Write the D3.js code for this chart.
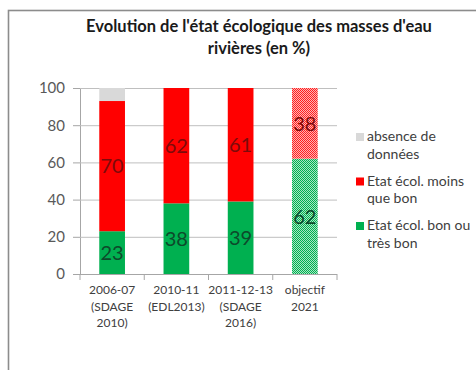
<!DOCTYPE html>
<html>
<head>
<meta charset="utf-8">
<script src="https://cdn.jsdelivr.net/npm/d3@7"></script>
<style>
  html, body { margin: 0; padding: 0; background: #fff; }
  svg { display: block; }
  text { font-family: Lato, "Open Sans", sans-serif; }
</style>
</head>
<body>
<svg id="chart" width="476" height="370"></svg>
<script>
// Periods shown on the x axis (one line per entry)
const categories = ["2006-07", "2010-11", "2011-12-13", "objectif 2021"];
const categoryLines = [
  ["2006-07", "(SDAGE", "2010)"],
  ["2010-11", "(EDL2013)"],
  ["2011-12-13", "(SDAGE", "2016)"],
  ["objectif", "2021"]
];
// Share of river water bodies per ecological state (%)
const bonOuTresBon = [23, 38, 39, 62];
const moinsQueBon = [70, 62, 61, 38];
const absenceDonnees = [7, 0, 0, 0];
// Target period is drawn with a dotted fill
const isTarget = [false, false, false, true];

const yTicks = [0, 20, 40, 60, 80, 100];
const seriesKeys = ["bon", "moins", "absence"];
const seriesLabels = {
  absence: ["absence de", "données"],
  moins: ["Etat écol. moins", "que bon"],
  bon: ["Etat écol. bon ou", "très bon"]
};
const colors = { bon: "#00b050", moins: "#ff0000", absence: "#d9d9d9" };

const svg = d3.select("#chart");

// Outer chart frame
svg.append("rect")
  .attr("x", 8.5).attr("y", 10.5)
  .attr("width", 480).attr("height", 380)
  .attr("fill", "#fff")
  .attr("stroke", "#8c8c8c").attr("stroke-width", 1.6);

// Dotted fills for the target bar
const defs = svg.append("defs");
function dotPattern(id, base, light) {
  const p = defs.append("pattern")
    .attr("id", id).attr("width", 2).attr("height", 2)
    .attr("patternUnits", "userSpaceOnUse");
  p.append("rect").attr("width", 2).attr("height", 2).attr("fill", light);
  p.append("rect").attr("width", 1).attr("height", 1).attr("fill", base);
  p.append("rect").attr("x", 1).attr("y", 1).attr("width", 1).attr("height", 1).attr("fill", base);
}
dotPattern("dots-bon", "#00b050", "#a8e6c4");
dotPattern("dots-moins", "#ff2020", "#ffb4b4");

// Title
const title = svg.append("g").attr("font-weight", "bold").attr("font-size", 16.5).attr("fill", "#1a1a1a")
  .attr("text-anchor", "middle");
title.append("text").attr("x", 259).attr("y", 32).text("Evolution de l'état écologique des masses d'eau");
title.append("text").attr("x", 259).attr("y", 54).text("rivières (en %)");

// Scales
const x = d3.scaleBand().domain(categories).range([80, 337]).paddingInner(0.6).paddingOuter(0.3);
const y = d3.scaleLinear().domain([0, 100]).range([274, 88]);

// Gridlines and y axis
const yAxis = svg.append("g").attr("transform", "translate(80,0)")
  .call(d3.axisLeft(y).tickValues(yTicks).tickSize(7).tickPadding(8));
yAxis.select(".domain").attr("stroke", "#a6a6a6");
yAxis.selectAll(".tick line").attr("stroke", "#a6a6a6");
yAxis.selectAll(".tick text").attr("font-size", 15).attr("fill", "#595959")
  .style("font-family", "Lato, sans-serif");

svg.append("g").selectAll("line").data(yTicks.filter(d => d > 0)).join("line")
  .attr("x1", 80).attr("x2", 337)
  .attr("y1", d => y(d) + 0.5).attr("y2", d => y(d) + 0.5)
  .attr("stroke", "#bfbfbf").attr("stroke-width", 1);

// Stacked bars
const rows = categories.map((c, i) => ({
  cat: c, bon: bonOuTresBon[i], moins: moinsQueBon[i], absence: absenceDonnees[i], target: isTarget[i]
}));
const stacked = d3.stack().keys(seriesKeys)(rows);

const layers = svg.append("g").selectAll("g").data(stacked).join("g");
layers.selectAll("rect").data(s => s.map(d => Object.assign({ key: s.key }, d))).join("rect")
  .attr("x", d => x(d.data.cat))
  .attr("width", x.bandwidth())
  .attr("y", d => y(d[1]))
  .attr("height", d => y(d[0]) - y(d[1]))
  .attr("fill", d => d.data.target && d.key !== "absence" ? `url(#dots-${d.key})` : colors[d.key]);

// Value labels inside segments
layers.filter(s => s.key !== "absence").selectAll("text")
  .data(s => s.map(d => Object.assign({ key: s.key }, d)).filter(d => d[1] - d[0] > 0))
  .join("text")
  .attr("x", d => x(d.data.cat) + x.bandwidth() / 2)
  .attr("y", d => y((d[0] + d[1]) / 2))
  .attr("dy", "0.36em")
  .attr("text-anchor", "middle")
  .attr("font-size", 20)
  .attr("fill", d => d.key === "moins" ? "#7d0a0a" : "#0d4a2b")
  .text(d => d.data[d.key]);

// X axis
const xAxis = svg.append("g").attr("transform", "translate(0,274)");
xAxis.append("line").attr("x1", 80).attr("x2", 337).attr("y1", 0.5).attr("y2", 0.5).attr("stroke", "#a6a6a6");
const boundaries = categories.map(c => x(c) - x.step() * x.paddingInner() / 2).concat([337]);
xAxis.selectAll("line.tick").data(boundaries).join("line").attr("class", "tick")
  .attr("x1", d => d).attr("x2", d => d).attr("y1", 0).attr("y2", 6).attr("stroke", "#a6a6a6");
const xl = xAxis.selectAll("text").data(categories).join("text")
  .attr("text-anchor", "middle").attr("font-size", 12).attr("fill", "#404040")
  .attr("x", c => x(c) + x.bandwidth() / 2).attr("y", 20);
xl.each(function (c, i) {
  d3.select(this).selectAll("tspan").data(categoryLines[i]).join("tspan")
    .attr("x", x(c) + x.bandwidth() / 2)
    .attr("dy", (d, j) => j === 0 ? 0 : 16.5)
    .text(d => d);
});

// Legend
const legendOrder = ["absence", "moins", "bon"];
const legend = svg.append("g").selectAll("g").data(legendOrder).join("g")
  .attr("transform", (d, i) => `translate(356,${137 + i * 44.5})`);
legend.append("rect").attr("x", 0).attr("y", -4).attr("width", 8).attr("height", 8)
  .attr("fill", d => colors[d]);
legend.append("text").attr("font-size", 14).attr("fill", "#404040")
  .selectAll("tspan").data(d => seriesLabels[d]).join("tspan")
  .attr("x", 11).attr("dy", (d, j) => j === 0 ? "0.3em" : 17.5)
  .text(d => d);
</script>
</body>
</html>
